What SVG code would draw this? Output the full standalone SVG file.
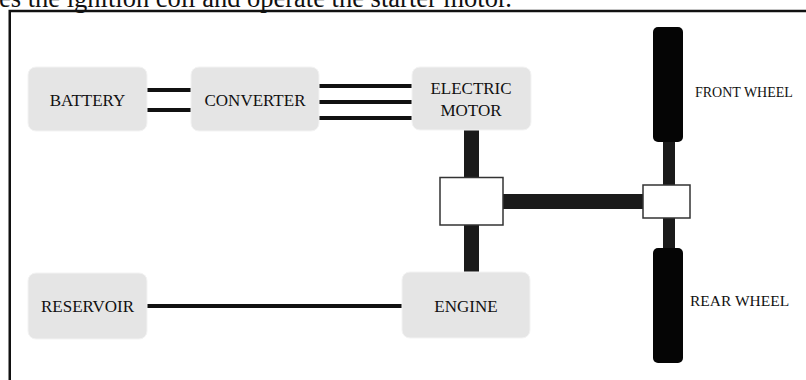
<svg xmlns="http://www.w3.org/2000/svg" width="806" height="380" viewBox="0 0 806 380">
<defs>
<style>
.box{fill:#e5e5e5;stroke:#f3f3f3;stroke-width:1}
.lbl{font-family:"Liberation Serif","Times New Roman",serif;font-size:17px;fill:#111;text-anchor:middle;dominant-baseline:central}
.side{font-family:"Liberation Serif","Times New Roman",serif;fill:#111;dominant-baseline:central}
.wire{stroke:#111;stroke-width:4;fill:none}
.shaft{fill:#1a1a1a}
.wheel{fill:#050505}
.gear{fill:#fff;stroke:#333;stroke-width:1.5}
</style>
</defs>
<rect width="806" height="380" fill="#fff"/>
<text x="-1" y="7" style="font-family:'Liberation Serif','Times New Roman',serif;font-size:26.5px;fill:#111">es the ignition coil and operate the starter motor.</text>
<path d="M9.75 390 V11 H820" fill="none" stroke="#111" stroke-width="2.5"/>

<g id="connectors">
<line class="wire" x1="147" y1="90" x2="191" y2="90"/>
<line class="wire" x1="147" y1="110" x2="191" y2="110"/>
<line class="wire" x1="319" y1="86" x2="412" y2="86"/>
<line class="wire" x1="319" y1="102" x2="412" y2="102"/>
<line class="wire" x1="319" y1="118" x2="412" y2="118"/>
<line class="wire" x1="147" y1="306" x2="402" y2="306" stroke-width="4.5"/>
<rect class="shaft" x="464" y="130" width="15" height="48"/>
<rect class="shaft" x="464" y="225" width="15" height="47"/>
<rect class="shaft" x="503" y="194" width="140" height="15"/>
<rect class="shaft" x="663" y="140" width="12" height="45"/>
<rect class="shaft" x="663" y="218" width="12" height="32"/>
</g>

<g id="battery">
<rect class="box" x="28" y="67" width="119" height="64" rx="8"/>
<text class="lbl" x="87.5" y="100">BATTERY</text>
</g>
<g id="converter">
<rect class="box" x="191" y="67" width="128" height="64" rx="8"/>
<text class="lbl" x="255" y="100">CONVERTER</text>
</g>
<g id="electric-motor">
<rect class="box" x="412" y="67" width="119" height="63" rx="8"/>
<text class="lbl" x="471" y="88">ELECTRIC</text>
<text class="lbl" x="471" y="110">MOTOR</text>
</g>
<g id="reservoir">
<rect class="box" x="28" y="273" width="119" height="66" rx="8"/>
<text class="lbl" x="87.5" y="306">RESERVOIR</text>
</g>
<g id="engine">
<rect class="box" x="402" y="272" width="128" height="66" rx="8"/>
<text class="lbl" x="466" y="306">ENGINE</text>
</g>
<g id="gearbox">
<rect class="gear" x="440" y="177.5" width="63" height="47.5"/>
</g>
<g id="differential">
<rect class="gear" x="643" y="185" width="47" height="33"/>
</g>
<g id="front-wheel">
<rect class="wheel" x="653" y="27" width="30" height="115" rx="5"/>
<text class="side" x="695" y="92" font-size="14">FRONT WHEEL</text>
</g>
<g id="rear-wheel">
<rect class="wheel" x="653" y="248" width="30" height="115" rx="5"/>
<text class="side" x="690" y="300" font-size="15.5">REAR WHEEL</text>
</g>
</svg>
